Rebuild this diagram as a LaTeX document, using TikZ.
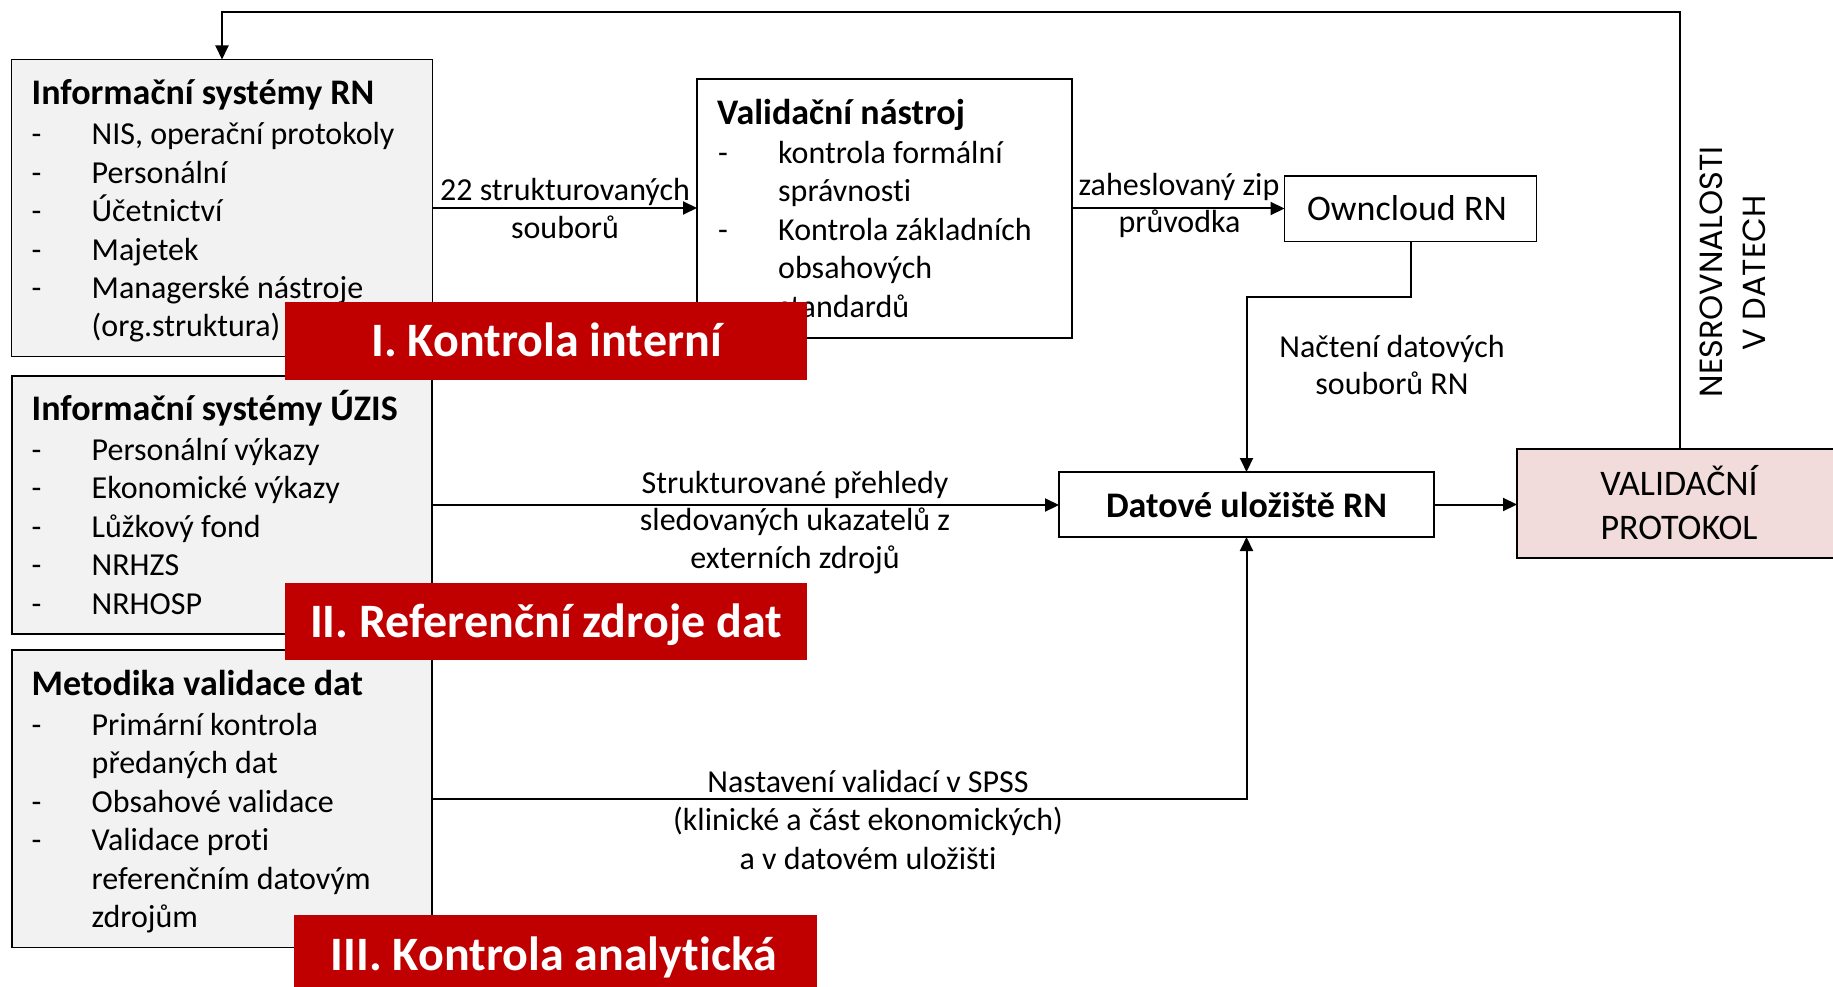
\documentclass[tikz,border=0pt]{standalone}
\usepackage{fontspec}
\setmainfont{Carlito}[Ligatures={NoCommon}]
\newfontfamily\geofont{Poppins}
\usetikzlibrary{arrows.meta}
\definecolor{boxgray}{HTML}{F2F2F2}
\definecolor{labelred}{HTML}{C00000}
\definecolor{protopink}{HTML}{F2DCDB}
\newcommand\dsh{\makebox[60pt][l]{-}}
\begin{document}
\begin{tikzpicture}[x=1pt,y=-1pt,
  graybox/.style={draw=black, line width=1.6pt, fill=boxgray, anchor=north west, inner sep=0, outer sep=0},
  whitebox/.style={draw=black, line width=1.6pt, fill=white, anchor=north west, inner sep=0, outer sep=0},
  pinkbox/.style={draw=black, line width=1.6pt, fill=protopink, anchor=north west, inner sep=0, outer sep=0},
  redbox/.style={fill=labelred, anchor=north west, inner sep=0, outer sep=0},
  body/.style={font=\fontsize{32}{38.4}\selectfont, inner sep=0, anchor=base west},
  hdr/.style={font=\fontsize{36}{44}\selectfont\bfseries, inner sep=0, anchor=base west},
  lbl/.style={font=\fontsize{32}{38.4}\selectfont, inner sep=0, anchor=base},
  big/.style={font=\fontsize{36}{44}\selectfont, inner sep=0, anchor=base},
  bigb/.style={font=\fontsize{36}{44}\selectfont\bfseries, inner sep=0, anchor=base},
  redtxt/.style={font=\fontsize{48}{58}\selectfont\bfseries, text=white, inner sep=0, anchor=base},
  vert/.style={font=\geofont\fontsize{32}{43}\selectfont, inner sep=0, anchor=base, rotate=90},
  conn/.style={line width=2pt, -{Triangle[length=14pt,width=13pt]}},
]
\useasboundingbox (0,0) rectangle (1833,987);
\clip (0,0) rectangle (1833,987);

% boxes
\node[graybox, minimum width=421pt, minimum height=297pt] (is1) at (11.5,59.5) {};
\node[graybox, minimum width=420pt, minimum height=258pt] (is2) at (12,376) {};
\node[graybox, minimum width=420pt, minimum height=297.5pt] (is3) at (12,650) {};
\node[whitebox, minimum width=375pt, minimum height=259pt] (vn) at (697,79) {};
\node[whitebox, minimum width=252pt, minimum height=65.5pt] (oc) at (1284.5,176) {};
\node[whitebox, minimum width=375pt, minimum height=65pt] (du) at (1059,472) {};
\node[pinkbox, minimum width=326pt, minimum height=109pt] (vp) at (1517,449) {};

\begin{scope}[yshift=-1.5pt]
% box 1 text
\node[hdr] (h1) at (31.5,103.3) {Informační systémy RN};
\node[body] (a1) at (31.5,143.3) {\dsh NIS, operační protokoly};
\node[body] (a2) at (31.5,181.7) {\dsh Personální};
\node[body] (a3) at (31.5,220.1) {\dsh Účetnictví};
\node[body] (a4) at (31.5,258.5) {\dsh Majetek};
\node[body] (a5) at (31.5,296.9) {\dsh Managerské nástroje};
\node[body] (a6) at (91.5,335.3) {(org.struktura)};

% box 2 text
\node[hdr] (h2) at (31.5,419) {Informační systémy ÚZIS};
\node[body] (b1) at (31.5,459) {\dsh Personální výkazy};
\node[body] (b2) at (31.5,497.4) {\dsh Ekonomické výkazy};
\node[body] (b3) at (31.5,535.8) {\dsh Lůžkový fond};
\node[body] (b4) at (31.5,574.2) {\dsh NRHZS};
\node[body] (b5) at (31.5,612.6) {\dsh NRHOSP};

% box 3 text
\node[hdr] (h3) at (31.5,694) {Metodika validace dat};
\node[body] (c1) at (31.5,734) {\dsh Primární kontrola};
\node[body] (c2) at (91.5,772.4) {předaných dat};
\node[body] (c3) at (31.5,810.8) {\dsh Obsahové validace};
\node[body] (c4) at (31.5,849.2) {\dsh Validace proti};
\node[body] (c5) at (91.5,887.6) {referenčním datovým};
\node[body] (c6) at (91.5,926) {zdrojům};

% validacni nastroj text
\node[hdr] (h4) at (717,123) {Validační nástroj};
\node[body] (d1) at (718,162) {\dsh kontrola formální};
\node[body] (d2) at (778,200.4) {správnosti};
\node[body] (d3) at (718,238.8) {\dsh Kontrola základních};
\node[body] (d4) at (778,277.2) {obsahových};
\node[body] (d5) at (778,315.6) {standardů};

% other box texts
\node[big] (octxt) at (1407,219) {Owncloud RN};
\node[bigb] (dutxt) at (1246.5,516) {Datové uložiště RN};
\node[big] (vp1) at (1679,494) {VALIDAČNÍ};
\node[big] (vp2) at (1679,538) {PROTOKOL};

% connector labels
\node[lbl] (l1a) at (565,199) {22 strukturovaných};
\node[lbl] (l1b) at (565,237) {souborů};
\node[lbl] (l2a) at (1179,194.4) {zaheslovaný zip};
\node[lbl] (l2b) at (1179.5,231.5) {průvodka};
\node[lbl] (l3a) at (1392,355.5) {Načtení datových};
\node[lbl] (l3b) at (1392,393) {souborů RN};
\node[lbl] (l4a) at (795,492) {Strukturované přehledy};
\node[lbl] (l4b) at (795,529.4) {sledovaných ukazatelů z};
\node[lbl] (l4c) at (795,567) {externích zdrojů};
\node[lbl] (l5a) at (868,791) {Nastavení validací v SPSS};
\node[lbl] (l5b) at (868,829.4) {(klinické a část ekonomických)};
\node[lbl] (l5c) at (868,867.8) {a v datovém uložišti};
\end{scope}

% connectors
\draw[conn] (is1.east) -- (is1.east -| vn.west);
\draw[conn] (vn.east) -- (vn.east -| oc.west);
\draw[conn] (oc.south) -- ++(0,55) -| (du.north);
\draw[conn] (is2.east) -- (is2.east -| du.west);
\draw[conn] (is3.east) -| (du.south);
\draw[conn] (du.east) -- (du.east -| vp.west);
\draw[conn] (vp.north) -- ++(0,-437) -| (is1.north);

% vertical label
\node[vert] (nv1) at (1722,272) {NESROVNALOSTI};
\node[vert] (nv2) at (1765,273) {V DATECH};

% red labels
\node[redbox, minimum width=522pt, minimum height=78pt] (r1) at (285,302) {};
\node[redbox, minimum width=522pt, minimum height=77.4pt] (r2) at (285,582.6) {};
\node[redbox, minimum width=523pt, minimum height=72pt] (r3) at (294,915) {};
\node[redtxt] (r1t) at (546.5,356) {I. Kontrola interní};
\node[redtxt] (r2t) at (546,637) {II. Referenční zdroje dat};
\node[redtxt] (r3t) at (554,970) {III. Kontrola analytická};
\end{tikzpicture}
\end{document}
